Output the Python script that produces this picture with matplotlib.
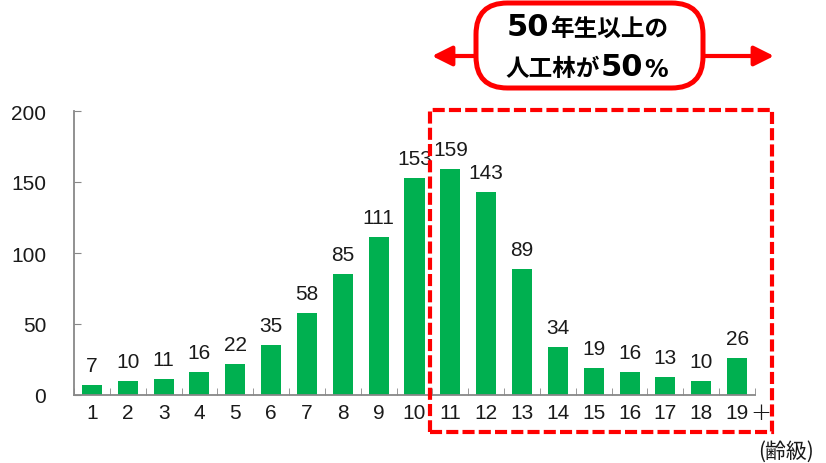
import matplotlib
matplotlib.use("Agg")
import matplotlib.pyplot as plt
from matplotlib.patches import FancyBboxPatch, Rectangle, FancyArrowPatch

plt.rcParams['font.family'] = ['Liberation Sans', 'Noto Sans CJK JP', 'DejaVu Sans']

# Age classes (5-year bands) and planted forest area per class
age_classes = [str(i) for i in range(1, 20)]
area = [7, 10, 11, 16, 22, 35, 58, 85, 111, 153, 159, 143, 89, 34, 19, 16, 13, 10, 26]
y_ticks = [0, 50, 100, 150, 200]

W, H = 826, 464
fig = plt.figure(figsize=(W / 100, H / 100), dpi=100)


def fx(px):
    return px / W


def fy(py):
    return 1 - py / H


ax = fig.add_axes([fx(74), fy(396), fx(755) - fx(74), fy(112) - fy(396)])
x = list(range(len(age_classes)))
ax.bar(x, area, width=0.56, color='#00B050')
for xi, v in zip(x, area):
    ax.text(xi, v + 7, str(v), ha='center', va='bottom', fontsize=15, color='#1a1a1a')

ax.set_xlim(-0.5, len(age_classes) - 0.5)
ax.set_ylim(0, 200)
ax.set_yticks(y_ticks)
ax.set_yticklabels([str(t) for t in y_ticks], fontsize=15, color='#1a1a1a')
ax.set_xticks(x)
ax.set_xticklabels(age_classes, fontsize=15, color='#1a1a1a')
ax.tick_params(axis='x', length=0, pad=6)
ax.tick_params(axis='y', direction='in', length=5, color='#888888', pad=20)
# Category boundary ticks on the x axis
ax.set_xticks([i - 0.5 for i in range(len(age_classes) + 1)], minor=True)
ax.tick_params(axis='x', which='minor', direction='in', length=5, color='#888888')
for s in ['top', 'right']:
    ax.spines[s].set_visible(False)
for s in ['left', 'bottom']:
    ax.spines[s].set_color('#888888')
    ax.spines[s].set_linewidth(1.3)

fig.text(fx(761), fy(413), '+', fontsize=18, ha='center', va='center', color='#1a1a1a',
         family=['DejaVu Sans'], fontweight='light')
fig.text(fx(786), fy(452), '(齢級)', fontsize=15, ha='center', va='center',
         family=['Noto Sans CJK JP'], color='#1a1a1a')

red = '#FF0000'
# Dashed frame around age classes 11 and above
fig.add_artist(Rectangle((fx(430), fy(433)), fx(772) - fx(430), fy(111) - fy(433),
                         transform=fig.transFigure, fill=False, edgecolor=red,
                         linewidth=3, linestyle=(0, (2.9, 1.0))))

# Arrows pointing left and right from the callout box
for x0, x1 in [(480, 432), (700, 774)]:
    fig.add_artist(FancyArrowPatch((fx(x0), fy(57)), (fx(x1), fy(57)),
                                   transform=fig.transFigure, arrowstyle='-|>',
                                   mutation_scale=30, color=red, linewidth=3,
                                   shrinkA=0, shrinkB=0))

# Rounded callout box
fig.add_artist(FancyBboxPatch((fx(476), fy(89)), fx(703) - fx(476), fy(4) - fy(89),
                              boxstyle='round,pad=0,rounding_size=0.038',
                              transform=fig.transFigure, facecolor='white',
                              edgecolor=red, linewidth=3.6, mutation_aspect=W / H))

cjk = ['Noto Sans CJK JP']
num = ['DejaVu Sans']
fig.text(fx(507), fy(28), '50', fontsize=22, fontweight='bold', family=num,
         ha='left', va='center', color='black')
fig.text(fx(550), fy(29), '年生以上の', fontsize=17, fontweight='bold', family=cjk,
         ha='left', va='center', color='black')
fig.text(fx(505), fy(69), '人工林が', fontsize=17, fontweight='bold', family=cjk,
         ha='left', va='center', color='black')
fig.text(fx(601), fy(68), '50', fontsize=22, fontweight='bold', family=num,
         ha='left', va='center', color='black')
fig.text(fx(644), fy(70), '%', fontsize=17, fontweight='bold', family=num,
         ha='left', va='center', color='black')

fig.savefig('out.png', dpi=100)
